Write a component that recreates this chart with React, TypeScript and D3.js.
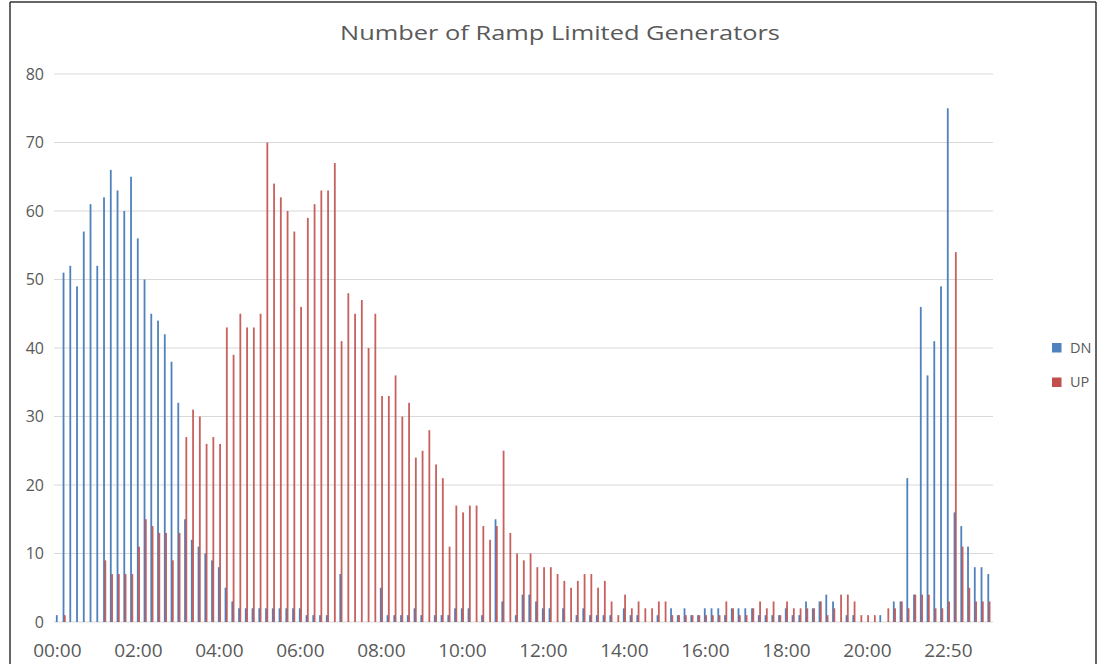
import React from "react";
import * as d3 from "d3";

const times: string[] = [
  "00:00","00:10","00:20","00:30","00:40","00:50","01:00","01:10","01:20","01:30","01:40","01:50",
  "02:00","02:10","02:20","02:30","02:40","02:50","03:00","03:10","03:20","03:30","03:40","03:50",
  "04:00","04:10","04:20","04:30","04:40","04:50","05:00","05:10","05:20","05:30","05:40","05:50",
  "06:00","06:10","06:20","06:30","06:40","06:50","07:00","07:10","07:20","07:30","07:40","07:50",
  "08:00","08:10","08:20","08:30","08:40","08:50","09:00","09:10","09:20","09:30","09:40","09:50",
  "10:00","10:10","10:20","10:30","10:40","10:50","11:00","11:10","11:20","11:30","11:40","11:50",
  "12:00","12:10","12:20","12:30","12:40","12:50","13:00","13:10","13:20","13:30","13:40","13:50",
  "14:00","14:10","14:20","14:30","14:40","14:50","15:00","15:10","15:20","15:30","15:40","15:50",
  "16:00","16:10","16:20","16:30","16:40","16:50","17:00","17:10","17:20","17:30","17:40","17:50",
  "18:00","18:10","18:20","18:30","18:40","18:50","19:00","19:10","19:20","19:30","19:40","19:50",
  "20:00","20:10","20:20","20:30","20:40","20:50","21:50","22:00","22:10","22:20","22:30","22:40",
  "22:50","23:00","23:10","23:20","23:30","23:40","23:50"
];

const dnValues: number[] = [
  1, 51, 52, 49, 57, 61, 52, 62, 66, 63, 60, 65,
  56, 50, 45, 44, 42, 38, 32, 15, 12, 11, 10, 9,
  8, 5, 3, 2, 2, 2, 2, 2, 2, 2, 2, 2,
  2, 1, 1, 1, 1, 0, 7, 0, 0, 0, 0, 0,
  5, 1, 1, 1, 1, 2, 1, 0, 1, 1, 1, 2,
  2, 2, 0, 1, 0, 15, 3, 0, 1, 4, 4, 3,
  2, 2, 0, 2, 0, 1, 2, 1, 1, 1, 1, 0,
  2, 1, 1, 0, 0, 1, 0, 2, 1, 2, 1, 1,
  2, 2, 2, 1, 2, 2, 2, 2, 1, 1, 1, 1,
  2, 1, 1, 3, 2, 3, 4, 3, 0, 1, 1, 0,
  0, 0, 1, 0, 3, 3, 21, 4, 46, 36, 41, 49,
  75, 16, 14, 11, 8, 8, 7
];

const upValues: number[] = [
  0, 1, 0, 0, 0, 0, 0, 9, 7, 7, 7, 7,
  11, 15, 14, 13, 13, 9, 13, 27, 31, 30, 26, 27,
  26, 43, 39, 45, 43, 43, 45, 70, 64, 62, 60, 57,
  46, 59, 61, 63, 63, 67, 41, 48, 45, 47, 40, 45,
  33, 33, 36, 30, 32, 24, 25, 28, 23, 21, 11, 17,
  16, 17, 17, 14, 12, 14, 25, 13, 10, 9, 10, 8,
  8, 8, 7, 6, 5, 6, 7, 7, 5, 6, 3, 1,
  4, 2, 3, 2, 2, 3, 3, 1, 1, 1, 1, 1,
  1, 1, 1, 3, 2, 1, 1, 2, 3, 2, 3, 1,
  3, 2, 2, 2, 2, 3, 1, 2, 4, 4, 3, 1,
  1, 1, 0, 2, 2, 3, 2, 4, 4, 4, 2, 2,
  3, 54, 11, 5, 3, 3, 3
];

const yTicks: number[] = [0, 10, 20, 30, 40, 50, 60, 70, 80];
const seriesNames: string[] = ["DN", "UP"];
const seriesColors: string[] = ["#4F81BD", "#C0504D"];

export default function App() {
  const W = 1098;
  const H = 664;
  const x = d3.scaleBand<string>().domain(times).range([54, 992.25]).paddingInner(0).paddingOuter(0);
  const y = d3.scaleLinear().domain([0, 80]).range([622, 74]);
  const bw = x.bandwidth();
  const barW = 1.8;
  const font = "'Open Sans', 'Liberation Sans', sans-serif";
  const textColor = "#595959";

  return (
    <svg width={W} height={H} style={{ position: "absolute", left: 0, top: 0, background: "#fff" }}>
      <rect x={0} y={0} width={W} height={H} fill="#fff" />
      {/* frame */}
      <line x1={10} y1={2} x2={1096} y2={2} stroke="#333" strokeWidth={1.5} />
      <line x1={10} y1={2} x2={10} y2={H} stroke="#333" strokeWidth={1.5} />
      <line x1={1096} y1={2} x2={1096} y2={H} stroke="#333" strokeWidth={1.5} />

      <text x={560} y={40} textAnchor="middle" fontFamily={font} fontSize={20.5} fill={textColor}
        textLength={440} lengthAdjust="spacingAndGlyphs">Number of Ramp Limited Generators</text>

      {yTicks.map((t) => (
        <g key={t}>
          <line x1={54} x2={993} y1={y(t)} y2={y(t)} stroke="#D9D9D9" strokeWidth={1} />
          <text x={44} y={y(t)} dy="0.36em" textAnchor="end" fontFamily={font} fontSize={16} fill={textColor}>{t}</text>
        </g>
      ))}

      {times.map((c, i) => {
        const cx = (x(c) as number) + bw / 2;
        return (
          <g key={c}>
            {dnValues[i] > 0 && (
              <rect x={cx - 1.5} y={y(dnValues[i])} width={barW} height={y(0) - y(dnValues[i])} fill={seriesColors[0]} />
            )}
            {upValues[i] > 0 && (
              <rect x={cx - 0.2} y={y(upValues[i])} width={barW} height={y(0) - y(upValues[i])} fill={seriesColors[1]} fillOpacity={0.9} />
            )}
          </g>
        );
      })}

      {times.map((c, i) =>
        i % 12 === 0 ? (
          <text key={"l" + c} x={(x(c) as number) + bw / 2} y={657} textAnchor="middle" fontFamily={font} fontSize={19} fill={textColor}>{c}</text>
        ) : null
      )}

      {seriesNames.map((s, i) => (
        <g key={s}>
          <rect x={1052} y={343 + i * 34.5} width={9.5} height={9.5} fill={seriesColors[i]} />
          <text x={1070} y={347.5 + i * 34.5} dy="0.36em" fontFamily={font} fontSize={14.5} fill={textColor}>{s}</text>
        </g>
      ))}
    </svg>
  );
}
